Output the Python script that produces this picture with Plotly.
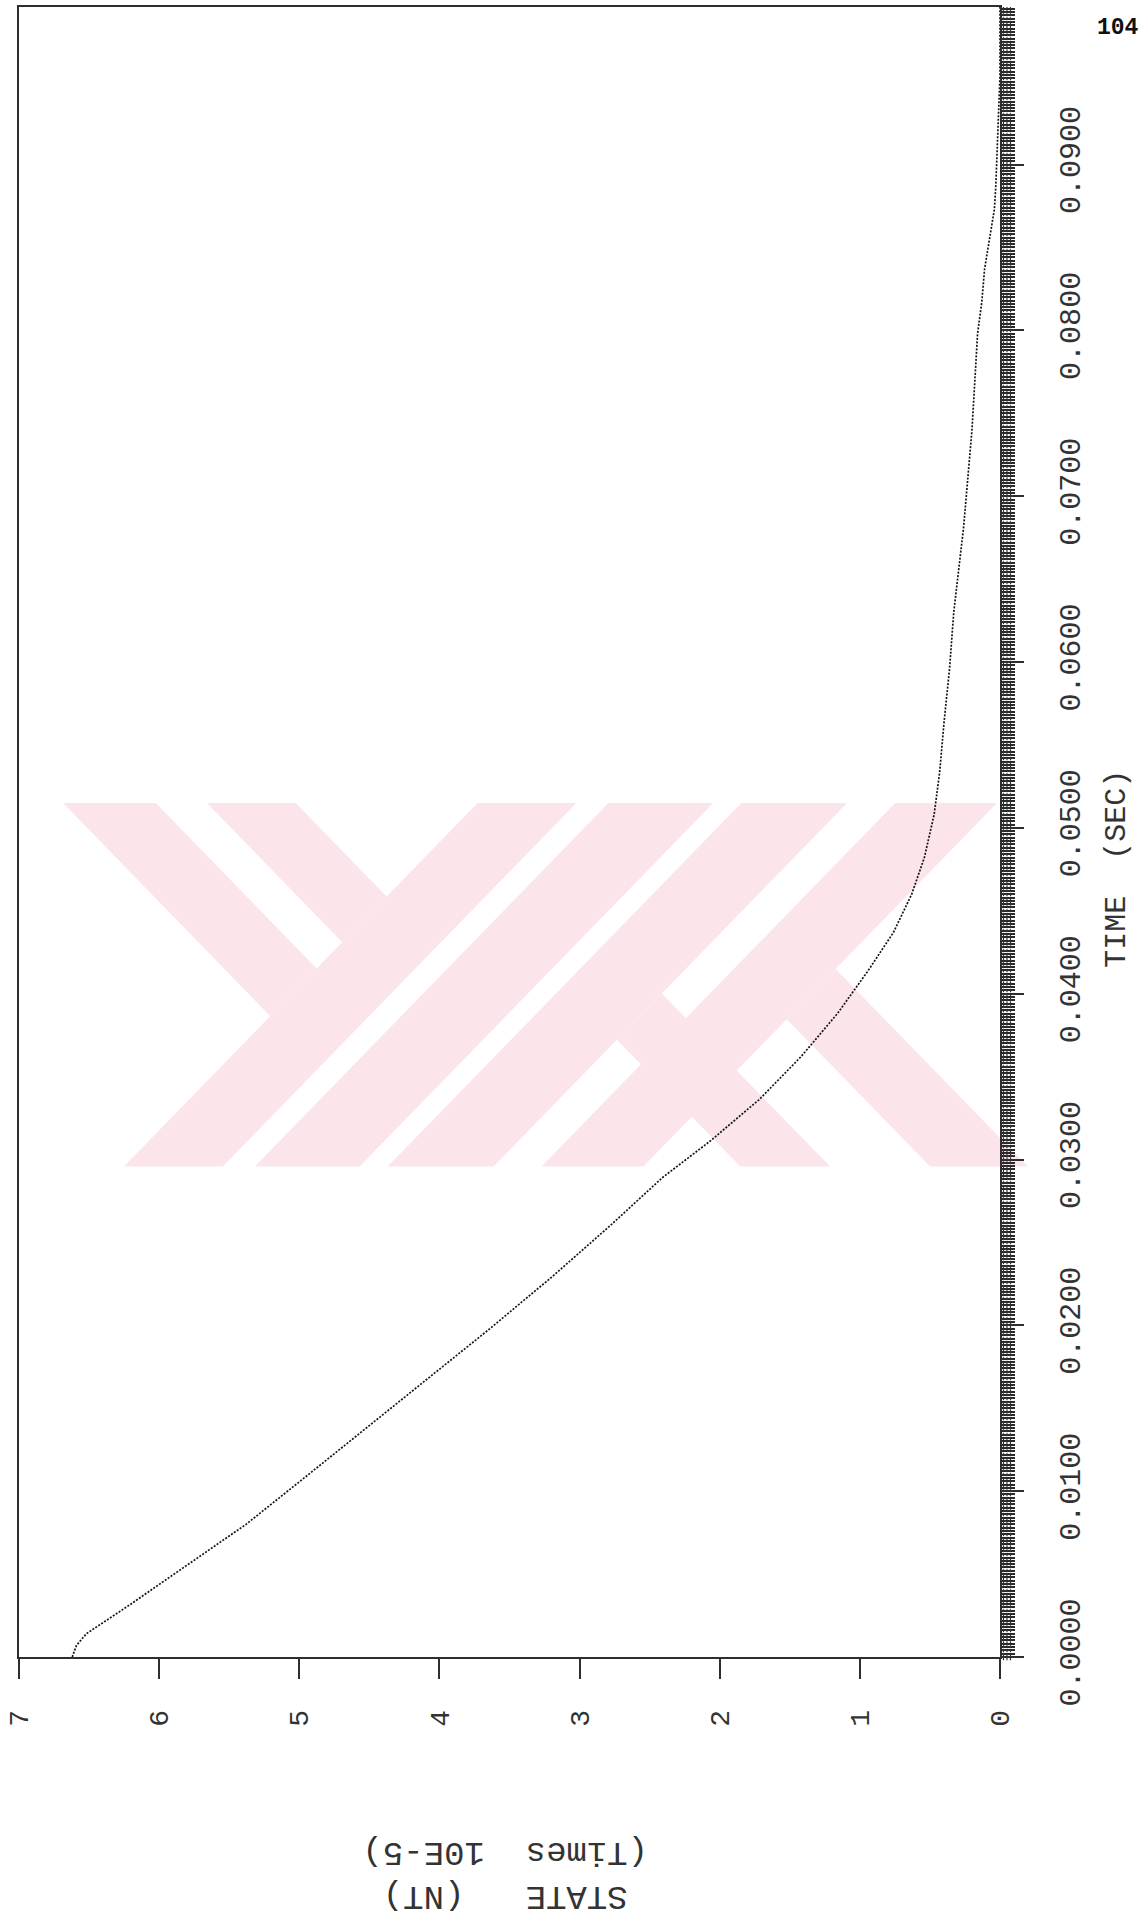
import plotly.graph_objects as go

# Decay of STATE (NT, in units of 1E-5) against TIME (s)
time_s = [0.0000, 0.0007, 0.0014, 0.0019, 0.0024, 0.0032, 0.0042, 0.0058, 0.0080,
          0.0109, 0.0139, 0.0168, 0.0198, 0.0229, 0.0261, 0.0289, 0.0311, 0.0336,
          0.0362, 0.0388, 0.0414, 0.0437, 0.0460, 0.0482, 0.0508, 0.0534, 0.0563,
          0.0596, 0.0630, 0.0681, 0.0740, 0.0798, 0.0817, 0.0837, 0.0858, 0.0873,
          0.0887, 0.0925, 0.0954, 0.0995]
state = [6.62, 6.59, 6.52, 6.43, 6.34, 6.20, 6.03, 5.76, 5.38,
         4.95, 4.51, 4.08, 3.64, 3.20, 2.77, 2.41, 2.07, 1.72,
         1.42, 1.16, 0.94, 0.76, 0.63, 0.54, 0.47, 0.43, 0.40,
         0.36, 0.33, 0.26, 0.20, 0.16, 0.13, 0.11, 0.07, 0.04,
         0.03, 0.01, 0.00, 0.00]

time_ticks = [0.00, 0.01, 0.02, 0.03, 0.04, 0.05, 0.06, 0.07, 0.08, 0.09]
time_labels = ["0.0000", "0.0100", "0.0200", "0.0300", "0.0400",
               "0.0500", "0.0600", "0.0700", "0.0800", "0.0900"]
state_ticks = [0, 1, 2, 3, 4, 5, 6, 7]
state_labels = ["0", "1", "2", "3", "4", "5", "6", "7"]

W, H = 1144, 1919
L, R, T, B = 18, 144, 5, 262
PW, PH = W - L - R, H - T - B
INK = "#2e2e2e"
MONO = "Liberation Mono, DejaVu Sans Mono, monospace"


def px(xp, yp):
    """Page pixel -> paper coordinates."""
    return (xp - L) / PW, (H - B - yp) / PH


def poly(points):
    parts = []
    for i, (a, b) in enumerate(points):
        u, v = px(a, b)
        parts.append(("M" if i == 0 else "L") + f"{u:.5f},{v:.5f}")
    return " ".join(parts) + " Z"


fig = go.Figure()
fig.add_trace(go.Scatter(
    x=state, y=time_s, mode="lines",
    line=dict(color="#151515", width=1.7, dash="2px,1.5px"),
    hoverinfo="skip", showlegend=False,
))

shapes = []

# faint pink stripe emblem behind the data
pink = "#FCE5EA"
Y0, Y1 = 802, 1166
S = 354
k = S / (Y1 - Y0)
for xl, xr in [(477, 576), (608, 713), (741, 847), (895, 997)]:
    shapes.append(dict(type="path", xref="paper", yref="paper", layer="below",
                       path=poly([(xl, Y0), (xr, Y0), (xr - S, Y1), (xl - S, Y1)]),
                       fillcolor=pink, line=dict(width=0)))
for xl, xr in [(62, 155), (206, 295)]:
    dr = (477 - xr) / (2 * k)
    dl = (477 - xl) / (2 * k)
    shapes.append(dict(type="path", xref="paper", yref="paper", layer="below",
                       path=poly([(xl, Y0), (xr, Y0), (xr + k * dr, Y0 + dr), (xl + k * dl, Y0 + dl)]),
                       fillcolor=pink, line=dict(width=0)))
for bl, br, e_right in [(740, 830, 847), (930, 1028, 997)]:
    # back-slash stripes rising from the bottom edge until they meet a stripe edge
    yl = (e_right - bl + k * (Y1 + Y0)) / (2 * k)
    yr = (e_right - br + k * (Y1 + Y0)) / (2 * k)
    shapes.append(dict(type="path", xref="paper", yref="paper", layer="below",
                       path=poly([(bl - k * (Y1 - yl), yl), (br - k * (Y1 - yr), yr), (br, Y1), (bl, Y1)]),
                       fillcolor=pink, line=dict(width=0)))

# hatched band along the time axis
for off in [3.5, 7.0, 10.5]:
    u = 1 + off / PW
    shapes.append(dict(type="line", xref="paper", yref="paper", x0=u, x1=u, y0=-0.002, y1=1,
                       line=dict(color="#333333", width=1.2, dash="3px,1px")))

fig.update_layout(
    width=W, height=H,
    margin=dict(l=L, r=R, t=T, b=B),
    paper_bgcolor="white", plot_bgcolor="white",
    shapes=shapes,
    xaxis=dict(
        range=[7, 0], autorange=False,
        tickmode="array", tickvals=state_ticks, ticktext=state_labels,
        ticks="outside", ticklen=20, tickwidth=1.5, tickcolor=INK,
        tickangle=-90, ticklabelstandoff=20,
        tickfont=dict(family=MONO, size=28, color="#333333"),
        showgrid=False, zeroline=False,
        showline=True, linecolor=INK, linewidth=1.5, mirror=True,
    ),
    yaxis=dict(
        side="right",
        range=[0, 0.0995], autorange=False,
        tickmode="array", tickvals=time_ticks, ticktext=time_labels,
        ticks="outside", ticklen=22, tickwidth=1.5, tickcolor=INK,
        tickangle=-90, ticklabelstandoff=20,
        tickfont=dict(family=MONO, size=30, color="#333333"),
        minor=dict(tickmode="linear", tick0=0, dtick=0.0002, ticks="outside",
                   ticklen=13, tickwidth=1.8, tickcolor="#2a2a2a", showgrid=False),
        showgrid=False, zeroline=False,
        showline=True, linecolor=INK, linewidth=1.5, mirror=True,
    ),
    annotations=[
        dict(text="TIME  (SEC)", xref="paper", yref="paper",
             x=px(1117, 868)[0], y=px(1117, 868)[1], textangle=-90,
             showarrow=False, xanchor="center", yanchor="middle",
             font=dict(family=MONO, size=30, color="#333333")),
        dict(text="STATE   (NT)<br>(Times  10E-5)", xref="paper", yref="paper",
             x=px(505, 1875)[0], y=px(505, 1875)[1], textangle=180,
             showarrow=False, xanchor="center", yanchor="middle",
             font=dict(family=MONO, size=34, color="#333333")),
        dict(text="<b>104</b>", xref="paper", yref="paper",
             x=px(1141, 26)[0], y=px(1141, 26)[1],
             showarrow=False, xanchor="right", yanchor="middle",
             font=dict(family=MONO, size=23, color="#111111")),
    ],
)

fig.write_html("out.html")
